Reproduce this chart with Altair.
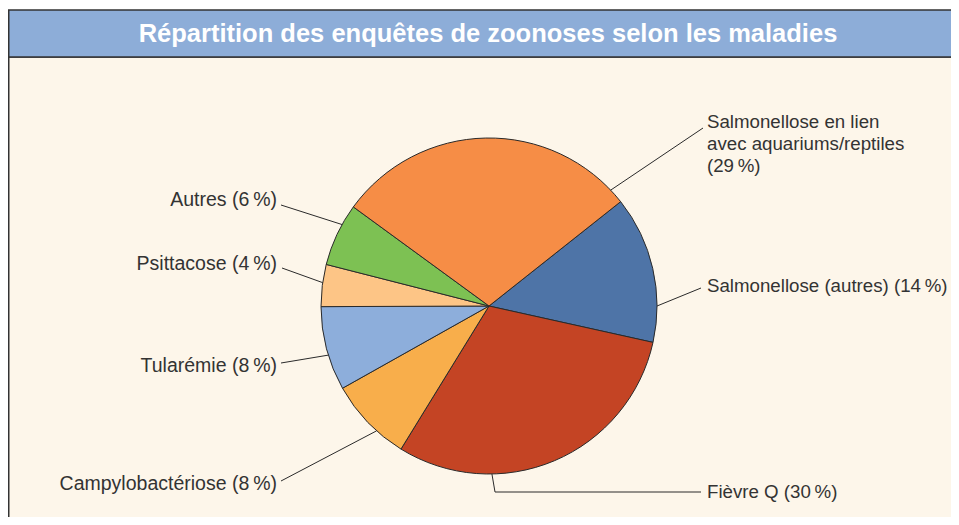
import math
import pandas as pd
import altair as alt

# ---------------- data ----------------
categories = [
    "Salmonellose (autres)",
    "Fièvre Q",
    "Campylobactériose",
    "Tularémie",
    "Psittacose",
    "Autres",
    "Salmonellose en lien avec aquariums/reptiles",
]
values = [14, 30, 8, 8, 4, 6, 29]
label_texts = [
    "Salmonellose (autres) (14\u2009%)",
    "Fièvre Q (30\u2009%)",
    "Campylobactériose (8\u2009%)",
    "Tularémie (8\u2009%)",
    "Psittacose (4\u2009%)",
    "Autres (6\u2009%)",
    "Salmonellose en lien\navec aquariums/reptiles\n(29\u2009%)",
]
colors = ["#4E74A7", "#C44424", "#F8AE4B", "#8DAEDB", "#FDC586", "#7DC153", "#F68D46"]
title_text = "Répartition des enquêtes de zoonoses selon les maladies"

# ---------------- layout (pixels on the page) ----------------
PAGE = 8
W, H = 943, 509
CX, CY, R = 489, 306, 168
START_DEG = 51.6
# label anchor (side, x, y), leader points and the angle where the leader meets the pie
label_layout = {
    "Salmonellose (autres)": ("right", 707, 286, [(701, 288)], 90),
    "Fièvre Q": ("right", 707, 492, [(701, 492), (495, 492)], 179),
    "Campylobactériose": ("left", 277, 484, [(281, 481)], 222),
    "Tularémie": ("left", 277, 366, [(281, 363)], 253),
    "Psittacose": ("left", 277, 264, [(282, 268)], 278),
    "Autres": ("left", 277, 200, [(281, 205)], 299),
    "Salmonellose en lien avec aquariums/reptiles": ("right", 707, 122, [(703, 128)], 46.4),
}

pie_df = pd.DataFrame({"cat": categories, "value": values, "idx": list(range(len(values)))})

line_rows, text_rows = [], []
for cat, txt in zip(categories, label_texts):
    side, tx, ty, pts, ang = label_layout[cat]
    a = math.radians(ang)
    ex, ey = CX + R * math.sin(a), CY - R * math.cos(a)
    allpts = pts + [(ex, ey)]
    for i, (px, py) in enumerate(allpts):
        line_rows.append({"cat": cat, "seq": i, "x": px, "y": py})
    text_rows.append({"cat": cat, "label": txt, "x": tx, "y": ty, "side": side})
line_df = pd.DataFrame(line_rows)
text_df = pd.DataFrame(text_rows)

xs = alt.Scale(domain=[PAGE, PAGE + W], range=[0, W])
ys = alt.Scale(domain=[PAGE, PAGE + H], range=[0, H])
one = alt.Data(values=[{}])

cream = alt.Chart(one).mark_rect(fill="#FDF6EA", stroke="#333333", strokeWidth=1.5).encode(
    x=alt.value(0.75), x2=alt.value(W + 10), y=alt.value(57 - PAGE), y2=alt.value(H + 10)
)
bar = alt.Chart(one).mark_rect(fill="#8DADD8", stroke="#333333", strokeWidth=1.5).encode(
    x=alt.value(0.75), x2=alt.value(W + 10), y=alt.value(10 - PAGE), y2=alt.value(57 - PAGE)
)
title = alt.Chart(one).mark_text(
    text=title_text, font="Liberation Sans", fontSize=25.5, fontWeight="bold",
    color="white", align="center", baseline="middle"
).encode(x=alt.value(488 - PAGE), y=alt.value(34 - PAGE))

pie = alt.Chart(pie_df).mark_arc(stroke="#2a2a2a", strokeWidth=1, radius=R).encode(
    theta=alt.Theta("value:Q", stack=True,
                    scale=alt.Scale(range=[math.radians(START_DEG), math.radians(START_DEG) + 2 * math.pi])),
    color=alt.Color("cat:N", scale=alt.Scale(domain=categories, range=colors), legend=None),
    order=alt.Order("idx:Q"),
    x=alt.value(CX - PAGE),
    y=alt.value(CY - PAGE),
)

leaders = alt.Chart(line_df).mark_line(color="#2a2a2a", strokeWidth=1).encode(
    x=alt.X("x:Q", scale=xs, axis=None),
    y=alt.Y("y:Q", scale=ys, axis=None),
    detail="cat:N",
    order="seq:Q",
)

text_left = alt.Chart(text_df).transform_filter(alt.datum.side == "left").mark_text(
    align="right", baseline="middle", font="Liberation Sans", fontSize=19.5, color="#333333", lineBreak="\n", lineHeight=22
).encode(x=alt.X("x:Q", scale=xs, axis=None), y=alt.Y("y:Q", scale=ys, axis=None), text="label:N")

text_right = alt.Chart(text_df).transform_filter(alt.datum.side == "right").mark_text(
    align="left", baseline="middle", font="Liberation Sans", fontSize=18.7, color="#333333", lineBreak="\n", lineHeight=22
).encode(x=alt.X("x:Q", scale=xs, axis=None), y=alt.Y("y:Q", scale=ys, axis=None), text="label:N")

chart = alt.layer(cream, bar, title, pie, leaders, text_left, text_right).properties(
    width=W, height=H, padding=0, autosize=alt.AutoSizeParams(type="none"), background="white"
).configure_view(stroke=None)

chart.save("out.html", embed_options={"renderer": "svg", "actions": False})
